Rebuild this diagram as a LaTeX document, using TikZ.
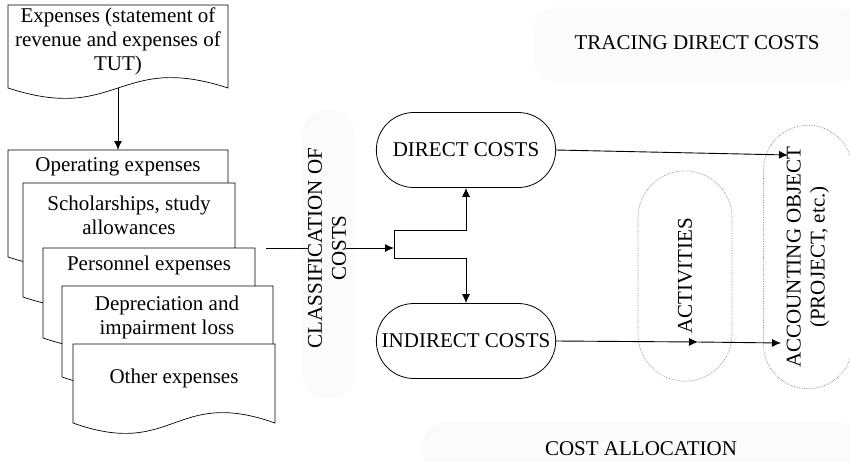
\documentclass[tikz,border=0pt]{standalone}
\usepackage{fontspec}
\setmainfont{Liberation Serif}
\usepackage{tikz}
\usetikzlibrary{calc,arrows.meta,positioning,shapes.misc}
\definecolor{softbg}{HTML}{FAFBFB}
\definecolor{dotc}{HTML}{8C8C8C}
\tikzset{
  ar/.style={-{Latex[length=9pt,width=8pt]},line width=0.9pt},
  ln/.style={line width=0.9pt},
  doc/.style={draw,line width=0.7pt,fill=white},
  txt/.style={font=\fontsize{21}{24}\selectfont,align=center,inner sep=0pt},
  pill/.style={rounded rectangle,draw,line width=0.8pt,minimum width=186pt,minimum height=75pt,font=\fontsize{21}{24}\selectfont},
  zone/.style={rounded rectangle,draw=dotc,densely dotted,line width=0.7pt,rotate=90,align=center,font=\fontsize{21}{24}\selectfont},
  band/.style={fill=softbg,rounded corners=24pt}
}
\newcommand{\docpath}[5]{%
  \draw[doc] (#1,#2) -- ({#1+#3},#2) -- ({#1+#3},{#2+#4})
    .. controls ({#1+0.5*#3},{#2+#4-36}) and ({#1+0.5*#3},{#2+#4+36}) .. (#1,{#2+#4}) -- cycle;
  \coordinate (#5top) at ({#1+0.5*#3},#2);
  \coordinate (#5bot) at ({#1+0.5*#3},{#2+#4});
}

\begin{document}
\begin{tikzpicture}[x=1pt,y=-1pt]
\useasboundingbox (0,0) rectangle (850,461);
\fill[band] (533,7) rectangle (860,82);
\fill[band] (422,422) rectangle (860,475);
\fill[band] (302,110) rectangle (355,398);

\docpath{8}{5}{220}{83}{exp}
\node[txt] (exp) at (118,41) {Expenses (statement of\\revenue and expenses of\\TUT)};
\docpath{8}{150}{220}{107}{opex}
\node[txt] (opex) at (118,167) {Operating expenses};
\docpath{23}{183}{212}{114}{schol}
\node[txt] (schol) at (129,215) {Scholarships, study\\allowances};
\docpath{43}{248}{212}{90}{pers}
\node[txt] (pers) at (149,265) {Personnel expenses};
\docpath{62}{286}{211}{91}{depr}
\node[txt] (depr) at (167,317) {Depreciation and\\impairment loss};
\docpath{73}{344}{202}{79}{other}
\node[txt] (other) at (174,378) {Other expenses};
\draw[ar] (expbot) -- (opextop);

\node[txt,rotate=90] (class) at (327,248) {CLASSIFICATION OF\\COSTS};
\node[pill] (direct) at (466,150) {DIRECT COSTS};
\node[pill] (indirect) at (466,341) {INDIRECT COSTS};
\node[zone,minimum width=217pt,minimum height=94pt] (act) at (685,276) {ACTIVITIES};
\node[zone,minimum width=270pt,minimum height=89pt] (obj) at (808,257) {ACCOUNTING OBJECT\\(PROJECT, etc.)};
\node[txt] (trace) at (697,43) {TRACING DIRECT COSTS};
\node[txt] (alloc) at (641,449) {COST ALLOCATION};

\coordinate (stk) at (266,248);
\coordinate (forkt) at (394,230);
\coordinate (forkb) at (394,258);
\coordinate (actin) at (698,342);
\coordinate (objin) at (788,155);
\coordinate (objin2) at (781,343);
\draw[ln] (stk) -- (class.north);
\draw[ar] (class.south) -- (394,248);
\draw[ln] (forkt) -- (forkb);
\draw[ar] (forkt) -| (direct.south);
\draw[ar] (forkb) -| (indirect.north);
\draw[ar] (direct.east) -- (objin);
\draw[ar] (indirect.east) -- (actin);
\draw[ar] (actin) -- (objin2);
\end{tikzpicture}
\end{document}
